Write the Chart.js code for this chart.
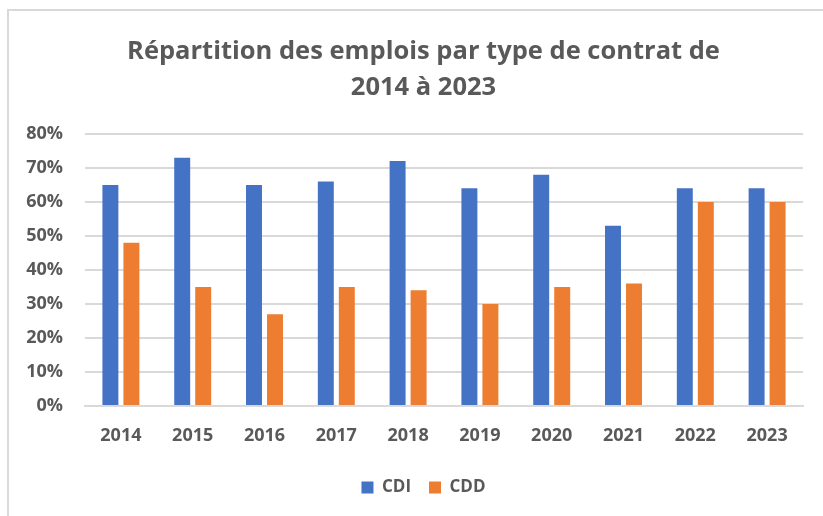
<!DOCTYPE html>
<html lang="fr">
<head>
<meta charset="utf-8">
<script src="https://cdn.jsdelivr.net/npm/chart.js@4.4.0/dist/chart.umd.min.js"></script>
<style>
    body { margin: 0; background: #fff; }
    #frame {
        position: absolute; left: 7px; top: 9px; width: 830px; height: 520px;
        border-left: 2px solid #d9d9d9; border-top: 2px solid #d9d9d9;
    }
    #wrap { position: absolute; left: 0; top: 0; width: 823px; height: 516px; }
</style>
</head>
<body>
<div id="frame"></div>
<div id="wrap"><canvas id="contratChart"></canvas></div>
<script>
// Données (en %)
const annees = ['2014', '2015', '2016', '2017', '2018', '2019', '2020', '2021', '2022', '2023'];
const cdi = [65, 73, 65, 66, 72, 64, 68, 53, 64, 64];
const cdd = [48, 35, 27, 35, 34, 30, 35, 36, 60, 60];
const titre = ['Répartition des emplois par type de contrat de', '2014 à 2023'];

const gris = '#595959';
const police = "'Open Sans', sans-serif";

// Le cadre Excel dépasse à droite : titre et légende sont un peu décalés
const decalage = {
    id: 'decalage',
    afterLayout(chart) {
        const dx = 22;
        chart.legend.left += dx;
        chart.legend.right += dx;
        chart.titleBlock.left += dx;
        chart.titleBlock.right += dx;
    }
};

const ctx = document.getElementById('contratChart').getContext('2d');

new Chart(ctx, {
    type: 'bar',
    data: {
        labels: annees,
        datasets: [
            { label: 'CDI', data: cdi, backgroundColor: '#4472C4' },
            { label: 'CDD', data: cdd, backgroundColor: '#ED7D31' }
        ]
    },
    options: {
        responsive: true,
        maintainAspectRatio: false,
        animation: false,
        categoryPercentage: 0.585,
        barPercentage: 0.76,
        layout: { padding: { left: 0, right: 20, bottom: 10 } },
        plugins: {
            title: {
                display: true,
                text: titre,
                color: gris,
                font: { family: police, size: 25.5, weight: 'bold', lineHeight: 1.41 },
                padding: { top: 34, bottom: 28 }
            },
            legend: {
                position: 'bottom',
                labels: {
                    color: gris,
                    font: { family: police, size: 17, weight: 'bold' },
                    boxWidth: 12,
                    boxHeight: 12,
                    padding: 18
                }
            },
            tooltip: { enabled: false }
        },
        scales: {
            x: {
                grid: { display: false },
                border: { color: '#d9d9d9', width: 2 },
                ticks: { color: gris, font: { family: police, size: 18, weight: 'bold' }, padding: 11 },
                afterFit: (axis) => { axis.height = 55; }
            },
            y: {
                min: 0,
                max: 80,
                grid: { color: '#d9d9d9', lineWidth: 2, drawTicks: false },
                border: { display: false },
                ticks: {
                    stepSize: 10,
                    color: gris,
                    padding: 22,
                    font: { family: police, size: 18, weight: 'bold' },
                    callback: (v) => v + '%'
                },
                afterFit: (axis) => { axis.width = 85; }
            }
        }
    },
    plugins: [decalage]
});
</script>
</body>
</html>
